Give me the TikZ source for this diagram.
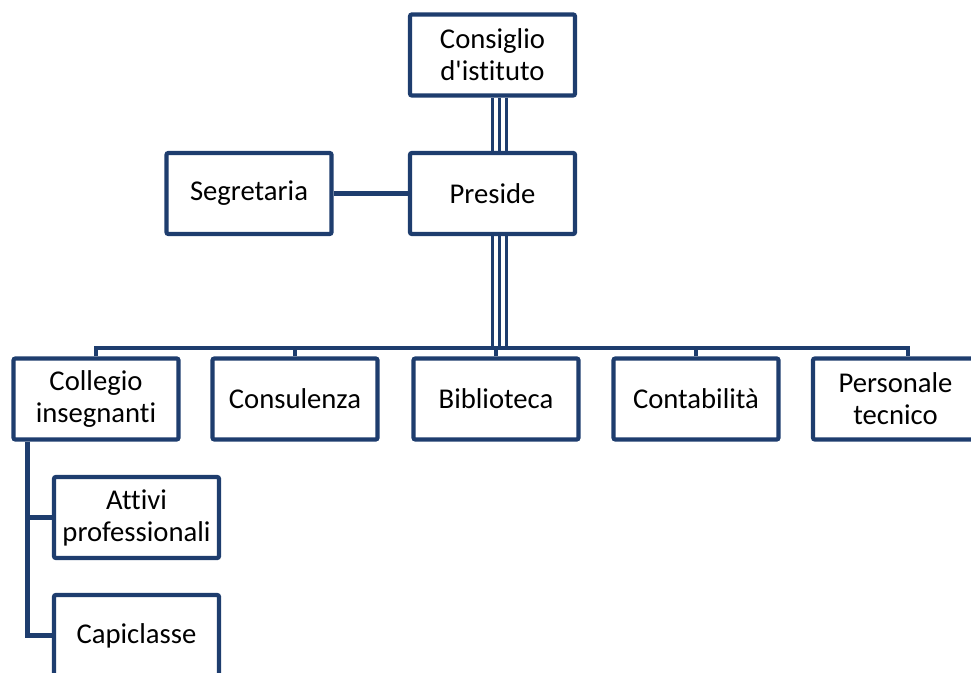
\documentclass[tikz,border=0pt]{standalone}
\usepackage{fontspec}
\setmainfont{Carlito}[Ligatures={TeXOff,NoCommon}]
\usetikzlibrary{positioning}
\definecolor{orgblue}{RGB}{30,61,110}

\begin{document}
\begin{tikzpicture}[x=0.75pt, y=-0.75pt,
    box/.style={draw=orgblue, line width=3.2pt, rounded corners=1.5pt, fill=white,
        minimum width=123.75pt, minimum height=60.75pt, inner sep=0pt,
        align=center, font=\fontsize{21.5}{24}\selectfont},
    link/.style={draw=orgblue, line width=3.2pt}]
    \clip (0,0) rectangle (971,673);

    \node[box] (consiglio) at (492.5,55) {Consiglio\\d'istituto};
    \node[box] (preside) at (492.5,193.5) {Preside};
    \node[box] (segr) at (249,193.5) {Segretaria};

    \node[box] (collegio) at (96,399) {Collegio\\insegnanti};
    \node[box] (consul) at (295,399) {Consulenza};
    \node[box] (biblio) at (496,399) {Biblioteca};
    \node[box] (contab) at (696,399) {Contabilità};
    \node[box] (personale) at (895.5,399) {Personale\\tecnico};

    \node[box] (attivi) at (136.5,517.5) {Attivi\\professionali};
    \node[box] (capicl) at (136.5,635.5) {Capiclasse};

    \coordinate (busL) at (95,348);
    \coordinate (busR) at (908,348);

    % triple lines down the middle
    \foreach \dx in {0,7,14} {
        \draw[link, line width=2.8pt] ([xshift=\dx*0.75pt]consiglio.south) -- ([xshift=\dx*0.75pt]preside.north);
        \draw[link, line width=2.8pt] ([xshift=\dx*0.75pt]preside.south) -- ([xshift=\dx*0.75pt]preside.south |- busL);
    }
    \draw[link] (segr) -- (preside);

    \draw[link] (collegio.north) -- (collegio.north |- busL) -- (busR) -- (busR |- personale.north);
    \foreach \n in {consul,biblio,contab}
        \draw[link] (\n.north) -- (\n.north |- busL);

    % under Collegio insegnanti
    \coordinate (spine) at ([xshift=12pt]collegio.south west);
    \draw[link] (spine) |- (capicl.west);
    \draw[link] (attivi.west) -- (attivi.west -| spine);
\end{tikzpicture}
\end{document}
